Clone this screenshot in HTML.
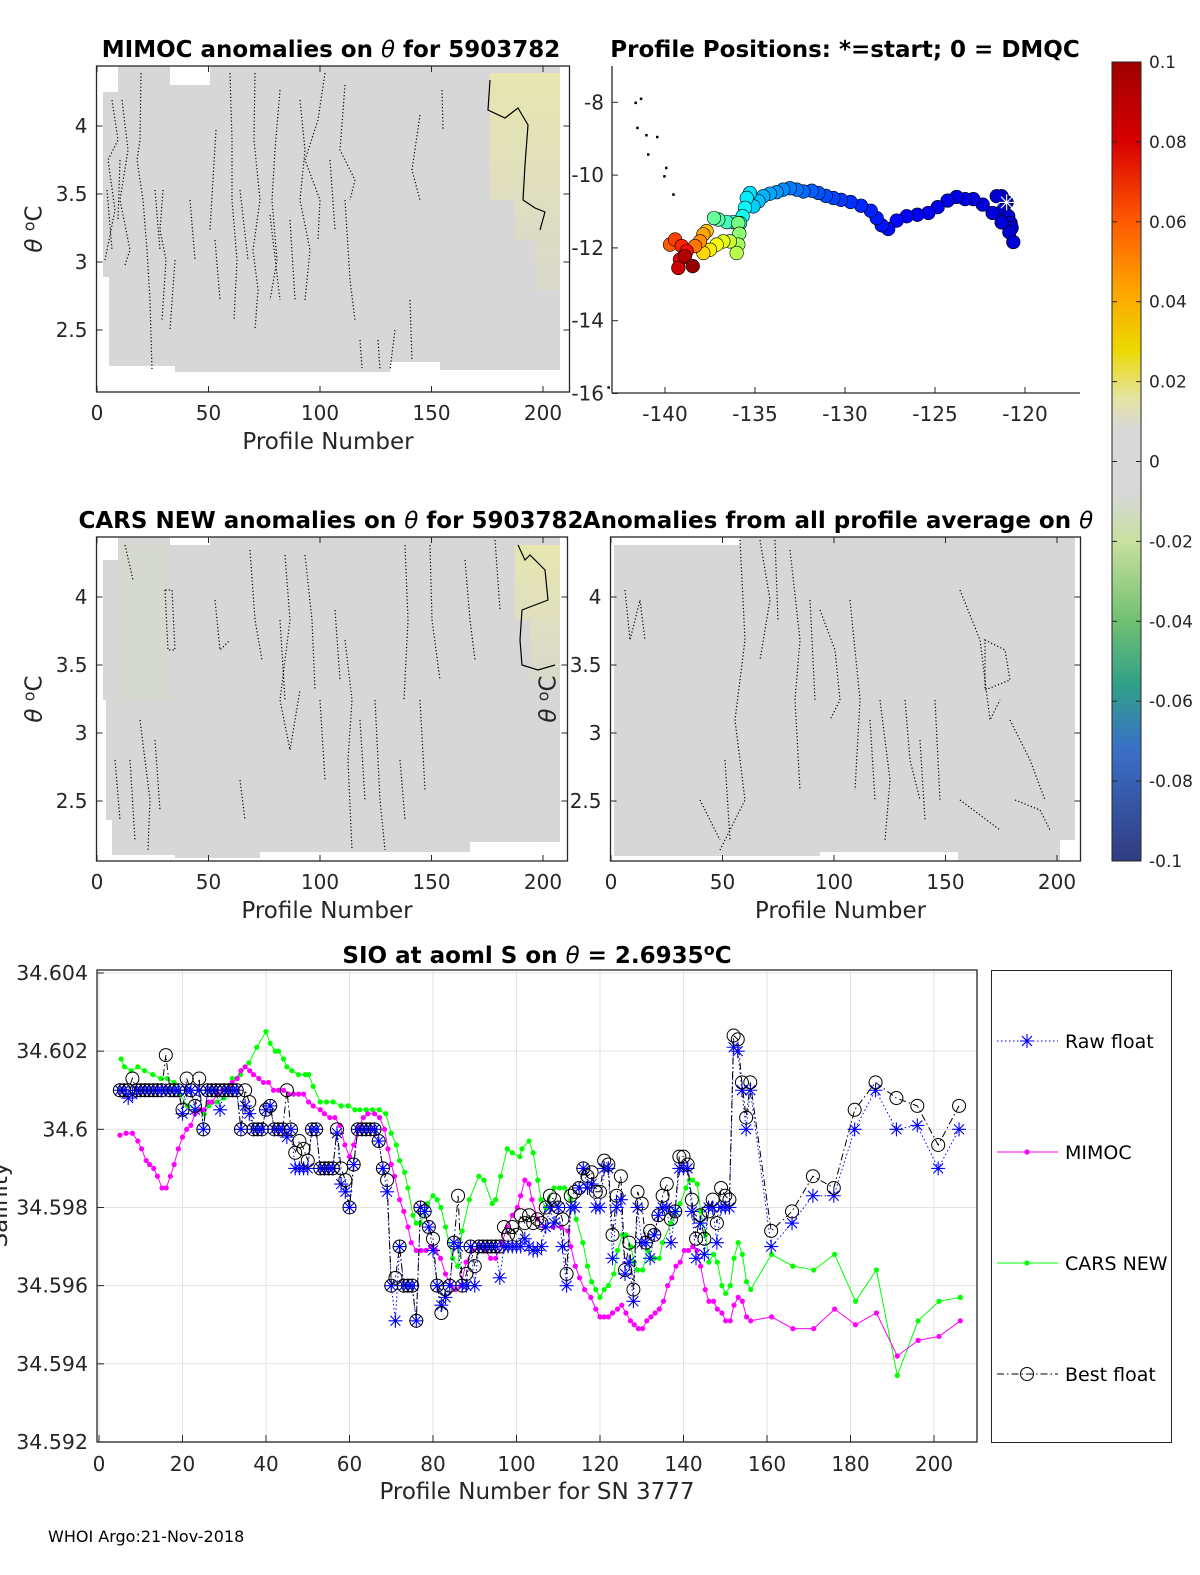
<!DOCTYPE html>
<html><head><meta charset="utf-8"><style>
body{margin:0;background:#fff;}
svg{display:block;font-family:"DejaVu Sans","Liberation Sans",sans-serif;}
</style></head><body>
<svg id="fig" width="1200" height="1575" viewBox="0 0 1200 1575" xmlns="http://www.w3.org/2000/svg">
<rect width="1200" height="1575" fill="#fff"/>
<defs>
<linearGradient id="cb" x1="0" y1="0" x2="0" y2="1">
<stop offset="0" stop-color="#a00000"/><stop offset="0.1" stop-color="#d80000"/>
<stop offset="0.2" stop-color="#ff5a00"/><stop offset="0.28" stop-color="#ffa000"/>
<stop offset="0.36" stop-color="#ecd800"/><stop offset="0.42" stop-color="#e4e4a0"/>
<stop offset="0.46" stop-color="#d8d8d8"/><stop offset="0.54" stop-color="#d8d8d8"/>
<stop offset="0.6" stop-color="#c8e0a0"/><stop offset="0.7" stop-color="#70c070"/>
<stop offset="0.78" stop-color="#30a088"/><stop offset="0.86" stop-color="#3a70c8"/>
<stop offset="1" stop-color="#303c80"/></linearGradient>
<linearGradient id="yel" x1="0" y1="0" x2="0" y2="1">
<stop offset="0" stop-color="#e6e6b0"/><stop offset="1" stop-color="#d9d9cc"/></linearGradient>
</defs>

<!-- Panel 1: MIMOC -->
<g>
<text x="331" y="57" font-size="23" font-weight="bold" text-anchor="middle">MIMOC anomalies on <tspan font-style="italic" font-weight="normal">θ</tspan>  for 5903782</text>
<path d="M103,92 L118,92 L118,66 L170,66 L170,85 L210,85 L210,66 L560,66 L560,370 L440,370 L440,362 L390,362 L390,372 L175,372 L175,366 L109,366 L109,277 L103,277 Z" fill="#d7d7d7"/>
<path d="M490,73 L560,73 L560,290 L535,290 L535,240 L515,240 L515,200 L490,200 Z" fill="url(#yel)"/>
<g fill="none" stroke="#000" stroke-width="1.2" stroke-dasharray="1.2,2.2">
<path d="M112,100 L118,140 L108,160 L115,210 L105,260 M122,100 L128,150 L120,200 L130,250 L125,265 M141,73 L140,140 L137,160 L143,200 L147,250 L150,300 L152,370 M163,190 L160,230 L166,260 L162,320 M230,73 L232,140 L232,200 L237,260 L234,320 M255,73 L254,140 L260,200 L253,250 L258,290 L255,330 M280,90 L275,150 L272,200 L277,260 L270,300 M300,100 L305,150 L300,200 L310,250 L305,300 M325,73 L318,120 L305,160 L320,200 L318,240 M345,85 L340,150 L355,180 L350,200 M420,115 L412,170 L420,200 M442,90 L443,130 M378,340 L380,370 M395,330 L390,370 M410,300 L412,360 M360,340 L362,368 M216,130 L210,230 M270,215 L280,300 M345,200 L350,280 L355,320 M107,190 L112,250 M155,190 L160,250 M190,200 L195,260 M215,240 L220,300 M240,190 L248,260 M290,220 L295,300 M330,160 L335,230 M120,160 L118,220 M175,260 L170,330"/>
</g>
<path d="M490,80 L488,110 L505,118 L518,108 L528,125 L525,165 L523,200 L535,208 L545,212 L540,230" fill="none" stroke="#000" stroke-width="1.2"/>
<rect x="96.5" y="66" width="473" height="326" fill="none" stroke="#262626" stroke-width="1.3"/>
</g>

<!-- Panel 3: CARS -->
<g>
<text x="331" y="528" font-size="23" font-weight="bold" text-anchor="middle">CARS NEW anomalies on <tspan font-style="italic" font-weight="normal">θ</tspan> for 5903782</text>
<path d="M103,560 L118,560 L118,537 L170,537 L170,545 L210,545 L210,537 L560,537 L560,842 L470,842 L470,852 L260,852 L260,858 L175,858 L175,855 L112,855 L112,820 L106,820 L106,700 L103,700 Z" fill="#d7d7d7"/>
<path d="M515,545 L560,545 L560,680 L530,680 L530,620 L515,620 Z" fill="url(#yel)"/>
<path d="M120,545 L170,545 L170,700 L120,700 Z" fill="#d3dbc8" opacity="0.5"/>
<g fill="none" stroke="#000" stroke-width="1.2" stroke-dasharray="1.2,2.2">
<path d="M125,545 L133,580 M165,590 L168,650 L175,650 L172,590 L165,590 M215,600 L220,650 L230,640 M250,550 L255,620 L262,660 M285,555 L290,620 L280,700 L290,750 L300,690 M305,555 L312,620 L315,690 M335,610 L340,680 M345,640 L352,700 L348,760 L352,850 M375,700 L380,800 L385,850 M405,545 L408,620 L404,700 M430,545 L432,620 L440,680 M465,560 L470,620 L475,660 M140,720 L150,800 L148,850 M115,760 L120,820 M400,760 L405,820 M240,780 L245,820 M495,540 L500,610 M130,760 L135,840 M155,740 L160,810 M280,620 L285,700 M320,700 L325,780 M360,720 L365,800 M420,700 L425,790"/>
</g>
<path d="M518,545 L525,560 L530,555 L545,570 L548,600 L522,610 L520,640 L522,665 L538,670 L555,665" fill="none" stroke="#000" stroke-width="1.2"/>
<rect x="96.5" y="537" width="471" height="324" fill="none" stroke="#262626" stroke-width="1.3"/>
</g>

<!-- Panel 4 -->
<g>
<text x="838" y="528" font-size="23" font-weight="bold" text-anchor="middle">Anomalies from all profile average on <tspan font-style="italic" font-weight="normal">θ</tspan></text>
<path d="M614,545 L740,545 L740,537 L1075,537 L1075,840 L1060,840 L1060,860 L958,860 L958,852 L820,852 L820,856 L614,856 Z" fill="#d7d7d7"/>
<g fill="none" stroke="#000" stroke-width="1.2" stroke-dasharray="1.2,2.2">
<path d="M625,590 L630,640 L640,600 L645,640 M740,540 L745,640 L735,720 L745,800 L720,850 M760,540 L770,600 L760,660 M790,550 L800,640 L795,700 L800,790 M820,610 L835,650 L840,700 L830,720 M850,600 L860,700 L855,790 M880,700 L890,780 L885,840 M905,700 L910,760 L920,800 M935,700 L940,800 M960,590 L980,640 L990,720 L1000,700 M985,640 L1005,650 L1010,680 L985,690 Z M1010,720 L1030,760 L1045,800 M1015,800 L1040,810 L1050,830 M700,800 L720,840 M960,800 L1000,830 M775,540 L778,620 M810,600 L815,700 M870,720 L875,800 M920,740 L925,820 M725,760 L730,840"/>
</g>
<rect x="610.5" y="537" width="470" height="324" fill="none" stroke="#262626" stroke-width="1.3"/>
</g>

<g id="heatTicks" font-size="19" fill="#262626"></g>

<g id="map">
<text x="845" y="57" font-size="23" font-weight="bold" text-anchor="middle">Profile Positions: *=start; 0 = DMQC</text>
<line x1="612" y1="66" x2="612" y2="393" stroke="#262626" stroke-width="1.3"/>
<line x1="612" y1="393" x2="1080" y2="393" stroke="#262626" stroke-width="1.3"/>
</g>

<g>
<rect x="1112" y="62" width="29" height="799" fill="url(#cb)" stroke="#262626" stroke-width="1"/>
<g id="cbTicks" font-size="17" fill="#262626"></g>
</g>

<g id="sal">
<text x="537" y="963" font-size="23" font-weight="bold" text-anchor="middle">SIO at aoml S on <tspan font-style="italic" font-weight="normal">θ</tspan> = 2.6935<tspan dy="-8" font-size="16">o</tspan><tspan dy="8">C</tspan></text>
<text x="537" y="1499" font-size="23" text-anchor="middle" fill="#262626">Profile Number for SN 3777</text>
<text transform="translate(7,1205) rotate(-90)" font-size="23" text-anchor="middle" fill="#262626">Salinity</text>
</g>
<g id="legend">
<rect x="991.5" y="970.5" width="180" height="472" fill="#fff" stroke="#262626" stroke-width="1"/>
</g>
<text x="48" y="1542" font-size="16" fill="#000">WHOI Argo:21-Nov-2018</text>
</svg>
<script>
const profAll = [5,6,7,8,9,10,11,12,13,14,15,16,17,18,19,20,21,22,23,24,25,26,27,28,29,30,31,32,33,34,35,36,37,38,39,40,41,42,43,44,45,46,47,48,49,50,51,52,53,54,55,56,57,58,59,60,61,62,63,64,65,66,67,68,69,70,71,72,73,74,75,76,77,78,79,80,81,82,83,84,85,86,87,88,89,90,91,92,93,94,95,96,97,98,99,100,101,102,103,104,105,106,107,108,109,110,111,112,113,114,115,116,117,118,119,120,121,122,123,124,125,126,127,128,129,130,131,132,133,134,135,136,137,138,139,140,141,142,143,144,145,146,147,148,149,150,151,152,153,154,155,156,161,166,171,176,181,186,191,196,201,206];
const rawVals = [34.6010,34.6010,34.6008,34.6009,34.6010,34.6010,34.6010,34.6010,34.6010,34.6010,34.6010,34.6010,34.6010,34.6010,34.6010,34.6004,34.6010,34.6010,34.6005,34.6010,34.6000,34.6010,34.6010,34.6010,34.6005,34.6010,34.6010,34.6010,34.6010,34.6000,34.6006,34.6004,34.6000,34.6000,34.6000,34.6005,34.6006,34.6000,34.6000,34.6000,34.5998,34.6000,34.5990,34.5990,34.5990,34.5990,34.6000,34.6000,34.5990,34.5990,34.5990,34.5990,34.5999,34.5986,34.5984,34.5980,34.5991,34.6000,34.6000,34.6000,34.6000,34.6000,34.5997,34.5990,34.5984,34.5960,34.5951,34.5970,34.5960,34.5960,34.5960,34.5951,34.5980,34.5979,34.5975,34.5969,34.5960,34.5955,34.5957,34.5960,34.5971,34.5970,34.5960,34.5960,34.5970,34.5960,34.5970,34.5970,34.5970,34.5970,34.5970,34.5962,34.5970,34.5970,34.5970,34.5970,34.5970,34.5972,34.5970,34.5969,34.5969,34.5970,34.5975,34.5980,34.5976,34.5980,34.5970,34.5960,34.5980,34.5980,34.5985,34.5990,34.5985,34.5986,34.5980,34.5980,34.5990,34.5990,34.5967,34.5980,34.5982,34.5963,34.5966,34.5956,34.5980,34.5971,34.5971,34.5967,34.5973,34.5978,34.5980,34.5980,34.5971,34.5979,34.5990,34.5990,34.5990,34.5979,34.5967,34.5976,34.5968,34.5980,34.5980,34.5971,34.5980,34.5980,34.5980,34.6021,34.6020,34.6010,34.6000,34.6010,34.5970,34.5976,34.5983,34.5983,34.6000,34.6010,34.6000,34.6001,34.5990,34.6000];
const bestVals = [34.6010,34.6010,34.6010,34.6013,34.6010,34.6010,34.6010,34.6010,34.6010,34.6010,34.6010,34.6019,34.6010,34.6010,34.6010,34.6005,34.6013,34.6010,34.6006,34.6013,34.6000,34.6010,34.6010,34.6010,34.6010,34.6010,34.6010,34.6010,34.6010,34.6000,34.6010,34.6007,34.6000,34.6000,34.6000,34.6005,34.6006,34.6000,34.6000,34.6000,34.6010,34.6000,34.5994,34.5997,34.5995,34.5992,34.6000,34.6000,34.5990,34.5990,34.5990,34.5990,34.6000,34.5990,34.5987,34.5980,34.5991,34.6000,34.6000,34.6000,34.6000,34.6000,34.5997,34.5990,34.5987,34.5960,34.5962,34.5970,34.5960,34.5960,34.5960,34.5951,34.5980,34.5979,34.5975,34.5972,34.5960,34.5953,34.5959,34.5960,34.5971,34.5983,34.5960,34.5963,34.5970,34.5965,34.5970,34.5970,34.5970,34.5970,34.5970,34.5970,34.5975,34.5973,34.5975,34.5973,34.5978,34.5976,34.5978,34.5976,34.5977,34.5976,34.5980,34.5983,34.5982,34.5980,34.5977,34.5963,34.5983,34.5984,34.5985,34.5990,34.5988,34.5989,34.5984,34.5984,34.5992,34.5991,34.5973,34.5983,34.5988,34.5964,34.5971,34.5959,34.5984,34.5981,34.5971,34.5974,34.5973,34.5978,34.5983,34.5986,34.5977,34.5979,34.5993,34.5993,34.5991,34.5982,34.5972,34.5978,34.5972,34.5979,34.5982,34.5976,34.5985,34.5983,34.5982,34.6024,34.6023,34.6012,34.6003,34.6012,34.5974,34.5979,34.5988,34.5985,34.6005,34.6012,34.6008,34.6006,34.5996,34.6006];
const mimocProf = [5,6.5,8,9.3,10.2,11.3,12.1,13.1,14,15.1,16.1,17.1,18,19,20,21,22,23,24.2,25.2,26.2,27.1,28.3,29.5,30.7,31.9,33.1,34,35,36.1,37,38.3,39.4,40.6,41.8,43,44.2,45.4,46.6,47.8,49,50.2,51.3,53,54,55.3,56.5,57.7,58.9,60,61,62,63.3,64.4,66,67.2,68.4,69.2,70,70.8,72,73,74,74.8,76,77.1,78.3,79.5,80.7,81.8,83,84.3,85.4,86.7,87.9,89.4,91,92.6,93.8,95,96.5,97.8,99,100.2,101,102,103,103.7,105.1,106.7,108.7,110.7,112.3,113,114.1,115.1,116.3,117.8,119,120,121,122,123,124.2,125.2,126.2,127.3,128.2,129.2,130.2,131.2,132.2,133.2,134.2,135.2,136.2,137.2,138.2,139.2,140.2,141.2,142.2,143.2,144.1,145.2,146.1,147.2,148.1,149.2,150.1,151.2,152.1,153.1,154.1,155.1,156.1,161.1,166.2,171.2,176.2,181.2,186.2,191.2,196.2,201.2,206.3];
const mimocVals = [34.59985,34.5999,34.5999,34.5997,34.5995,34.5992,34.5991,34.5990,34.5988,34.5985,34.5985,34.5988,34.5991,34.5995,34.5998,34.6000,34.6001,34.6004,34.6005,34.6005,34.6007,34.6007,34.6009,34.6010,34.6010,34.6012,34.6013,34.6015,34.6016,34.6015,34.6014,34.6013,34.6012,34.6012,34.6010,34.6010,34.6010,34.6009,34.6009,34.6009,34.6009,34.6007,34.6006,34.6005,34.6004,34.6003,34.6003,34.6001,34.5996,34.5993,34.5996,34.6000,34.6003,34.6004,34.6004,34.6003,34.6000,34.5995,34.5991,34.5988,34.5982,34.5979,34.5975,34.5971,34.5969,34.5969,34.5969,34.5970,34.5969,34.5967,34.5963,34.5960,34.5959,34.5960,34.5966,34.5969,34.5970,34.5969,34.5967,34.5967,34.5971,34.5975,34.5978,34.5980,34.5983,34.5987,34.5986,34.5982,34.5977,34.5975,34.5975,34.5975,34.5974,34.5970,34.5965,34.5962,34.5959,34.5957,34.5954,34.5952,34.5952,34.5952,34.5953,34.5954,34.5955,34.5953,34.5951,34.5950,34.5949,34.5949,34.5951,34.5952,34.5953,34.5954,34.5956,34.5960,34.5962,34.5965,34.5966,34.5969,34.5969,34.5970,34.5969,34.5965,34.5959,34.5956,34.5956,34.5954,34.5953,34.5951,34.5951,34.5955,34.5957,34.5956,34.5952,34.5951,34.5952,34.5949,34.5949,34.5954,34.5950,34.5953,34.5942,34.5946,34.5947,34.5951];
const carsProf = [5.3,6.1,7.7,9.3,10.9,12.9,14.8,16.4,18,19.2,21.2,23.6,25.2,26.3,28.3,29.9,31.9,33.9,35.9,37.8,40,41,42.2,43,44.2,45,46.2,47.8,49.4,50.2,51.3,53,54.5,56.1,58,59.7,61.3,62.5,64,65.5,67.1,68.7,70,71.2,72,73.2,74,75.2,76,77,78.7,80,81,81.9,83,84.7,85.9,87,88.7,91,92.2,94.2,95,96.2,97.8,99,100.8,101.3,103,104,105.1,105.9,107,109,110.3,111.5,113,114.3,115.9,117,118,119,120,121,122,123.3,124.2,125.4,126.2,127.4,128.2,129,130.2,131.4,132.2,133,134.2,135,137,138.2,139.2,140.6,141.4,142.2,143.3,144.1,145.3,146.1,147.2,148.1,149.2,150.1,151.2,152.1,153.1,154.1,155.1,156.1,161.1,166.2,171.2,176.2,181.2,186.2,191.2,196.2,201.2,206.3];
const carsVals = [34.6018,34.6016,34.6015,34.6016,34.6015,34.6014,34.6013,34.6013,34.6012,34.6009,34.6006,34.6005,34.6004,34.6006,34.6007,34.6008,34.6013,34.6014,34.6017,34.6021,34.6025,34.6022,34.6020,34.6020,34.6018,34.6016,34.6015,34.6014,34.6014,34.6014,34.6011,34.6007,34.6007,34.6007,34.6006,34.6006,34.6005,34.6005,34.6005,34.6005,34.6005,34.6004,34.5999,34.5996,34.5992,34.5989,34.5985,34.5978,34.5976,34.5976,34.5981,34.5983,34.5982,34.5980,34.5975,34.5967,34.5965,34.5974,34.5982,34.5988,34.5987,34.5981,34.5982,34.5988,34.5995,34.5994,34.5993,34.5995,34.5997,34.5994,34.5987,34.5982,34.5980,34.5985,34.5985,34.5985,34.5982,34.5977,34.5971,34.5965,34.5961,34.5959,34.5957,34.5959,34.5960,34.5963,34.5969,34.5973,34.5973,34.5970,34.5966,34.5964,34.5964,34.5969,34.5967,34.5967,34.5967,34.5971,34.5976,34.5979,34.5981,34.5985,34.5987,34.5987,34.5986,34.5979,34.5973,34.5966,34.5968,34.5966,34.5960,34.5958,34.5960,34.5967,34.5971,34.5968,34.5961,34.5959,34.5968,34.5965,34.5964,34.5968,34.5956,34.5964,34.5937,34.5951,34.5956,34.5957];
const salXTicks = [0,20,40,60,80,100,120,140,160,180,200];
const salYTicks = [34.592,34.594,34.596,34.598,34.6,34.602,34.604];
const salYLabels = ["34.592","34.594","34.596","34.598","34.6","34.602","34.604"];

const trackLon = [-121.02,-121.30,-121.57,-121.20,-120.93,-120.80,-120.74,-120.87,-120.65,-121.30,-121.80,-122.35,-122.87,-123.33,-123.80,-124.30,-124.85,-125.37,-125.98,-126.57,-127.13,-127.60,-127.96,-128.24,-128.57,-129.11,-129.69,-130.22,-130.65,-131.07,-131.48,-131.85,-132.31,-132.69,-133.06,-133.43,-133.80,-134.17,-134.54,-134.81,-135.09,-135.28,-135.46,-135.56,-135.69,-135.83,-136.20,-136.57,-137.04,-137.28,-135.93,-135.87,-135.93,-136.02,-136.39,-136.76,-137.13,-137.50,-137.87,-137.69,-137.87,-138.06,-138.33,-139.72,-139.44,-139.07,-138.80,-139.17,-139.26,-138.89,-138.46];
const trackLat = [-10.75,-10.58,-10.58,-10.95,-11.13,-11.32,-11.45,-11.57,-11.84,-11.30,-11.04,-10.81,-10.66,-10.66,-10.60,-10.70,-10.88,-11.04,-11.09,-11.13,-11.25,-11.48,-11.38,-11.18,-10.98,-10.84,-10.74,-10.68,-10.63,-10.57,-10.49,-10.43,-10.45,-10.40,-10.36,-10.40,-10.47,-10.51,-10.58,-10.72,-10.86,-10.49,-10.63,-10.90,-11.13,-11.32,-11.29,-11.29,-11.22,-11.18,-11.32,-11.61,-11.91,-12.14,-11.82,-11.82,-11.91,-12.05,-12.14,-11.54,-11.63,-11.82,-11.95,-11.91,-11.77,-11.95,-12.09,-12.32,-12.55,-12.23,-12.50];
const islandLon = [-141.7,-141.4,-141.6,-141.1,-140.5,-141.0,-140.0,-140.1,-139.6,-143.2];
const islandLat = [-7.98,-7.87,-8.67,-8.87,-8.92,-9.40,-9.77,-10.0,-10.5,-15.8];
const mapXTicks = [-140,-135,-130,-125,-120];
const mapYTicks = [-8,-10,-12,-14,-16];
const heatXTicks = [0,50,100,150,200];
const heatYTicks = [2.5,3,3.5,4];
const cbTicks = [0.1,0.08,0.06,0.04,0.02,0,-0.02,-0.04,-0.06,-0.08,-0.1];
const cbLabels = ["0.1","0.08","0.06","0.04","0.02","0","-0.02","-0.04","-0.06","-0.08","-0.1"];

const NS="http://www.w3.org/2000/svg";
function mk(tag, attrs, parent){const e=document.createElementNS(NS,tag);for(const k in attrs)e.setAttribute(k,attrs[k]);parent.appendChild(e);return e;}

const sal=document.getElementById('sal');
const X0=97,X1=977,Y0=970,Y1=1442;
const sx=p=>99+p*4.175;
const sy=v=>973+(34.604-v)*39080;
salXTicks.forEach(t=>{
  const g=mk('line',{x1:sx(t),x2:sx(t),y1:Y0,y2:Y1,stroke:'#e3e3e3','stroke-width':1},sal);
  
  
  const tk=mk('line',{x1:sx(t),x2:sx(t),y1:Y1,y2:Y1-7,stroke:'#262626'},sal);
  
  
  const tx=mk('text',{x:sx(t),y:1471,'font-size':20,'text-anchor':'middle',fill:'#262626'},sal);
  tx.textContent=t;
  
  
});
salYTicks.forEach((t,i)=>{
  const g=mk('line',{x1:X0,x2:X1,y1:sy(t),y2:sy(t),stroke:'#e3e3e3','stroke-width':1},sal);
  
  
  const tk=mk('line',{x1:X0,x2:X0+7,y1:sy(t),y2:sy(t),stroke:'#262626'},sal);
  
  
  const tx=mk('text',{x:88,y:sy(t)+7,'font-size':20.5,'text-anchor':'end',fill:'#262626'},sal);
  tx.textContent=salYLabels[i];
  
  
});
const box=mk('rect',{x:X0,y:Y0,width:X1-X0,height:Y1-Y0,fill:'none',stroke:'#262626','stroke-width':1.3},sal);



function poly(px,vals,color,dash,name){
  const d=px.map((p,i)=>(i?'L':'M')+sx(p).toFixed(1)+','+sy(vals[i]).toFixed(1)).join(' ');
  const e=mk('path',{d:d,fill:'none',stroke:color,'stroke-width':1,'stroke-dasharray':dash},sal);
  
  
}
function star(cx,cy,r,color,parent){
  let d='';
  for(let k=0;k<4;k++){const a=k*Math.PI/4;d+=`M${cx-r*Math.cos(a)},${cy-r*Math.sin(a)}L${cx+r*Math.cos(a)},${cy+r*Math.sin(a)}`;}
  return mk('path',{d:d,stroke:color,'stroke-width':1.1,fill:'none'},parent);
}
poly(carsProf,carsVals,'#00ff00','','cars-line');
carsProf.forEach((p,i)=>{const c=mk('circle',{cx:sx(p),cy:sy(carsVals[i]),r:2.6,fill:'#00ff00'},sal);
  
  });
poly(mimocProf,mimocVals,'#ff00ff','','mimoc-line');
mimocProf.forEach((p,i)=>{const c=mk('circle',{cx:sx(p),cy:sy(mimocVals[i]),r:2.6,fill:'#ff00ff'},sal);
  
  });
poly(profAll,rawVals,'#0000ff','1.5,2.5','raw-float-line');
poly(profAll,bestVals,'#000000','7,3,1.5,3','best-float-line');
profAll.forEach((p,i)=>{
  const s=star(sx(p),sy(rawVals[i]),7,'#0000ff',sal);
  
  
  const c=mk('circle',{cx:sx(p),cy:sy(bestVals[i]),r:6.5,fill:'none',stroke:'#000','stroke-width':1},sal);
  
  
});

const lg=document.getElementById('legend');
const legNames=['Raw float','MIMOC','CARS NEW','Best float'];
const legY=[1041,1152,1263,1374];
const legCol=['#0000ff','#ff00ff','#00ff00','#000'];
const legDash=['1.5,2.5','','','7,3,1.5,3'];
legNames.forEach((n,i)=>{
  const l=mk('line',{x1:997,x2:1058,y1:legY[i],y2:legY[i],stroke:legCol[i],'stroke-width':1,'stroke-dasharray':legDash[i]},lg);
  
  
  if(i==0){star(1027,legY[i],7,'#0000ff',lg);}
  else if(i==3){mk('circle',{cx:1027,cy:legY[i],r:6.5,fill:'none',stroke:'#000'},lg);}
  else{mk('circle',{cx:1027,cy:legY[i],r:2.6,fill:legCol[i]},lg);}
  const t=mk('text',{x:1065,y:legY[i]+7,'font-size':19,fill:'#000'},lg);
  t.textContent=n;
  
  
});

const ht=document.getElementById('heatTicks');
const panels=[{x0:96.5,x1:569.5,y0:66,y1:392,px:97},{x0:96.5,x1:567.5,y0:537,y1:861,px:97},{x0:610.5,x1:1080.5,y0:537,y1:861,px:611}];
panels.forEach((P,pi)=>{
  const yOff=P.y0-66;
  heatXTicks.forEach(t=>{
    const x=P.px+t*2.23;
    mk('line',{x1:x,x2:x,y1:P.y1,y2:P.y1-6,stroke:'#262626'},ht);
    mk('line',{x1:x,x2:x,y1:P.y0,y2:P.y0+6,stroke:'#262626'},ht);
    const tx=mk('text',{x:x,y:P.y1+28,'text-anchor':'middle','font-size':20},ht);
    tx.textContent=t;
    
    
  });
  heatYTicks.forEach(t=>{
    const y=262-(t-3)*136+yOff;
    mk('line',{x1:P.x0,x2:P.x0+6,y1:y,y2:y,stroke:'#262626'},ht);
    mk('line',{x1:P.x1,x2:P.x1-6,y1:y,y2:y,stroke:'#262626'},ht);
    const tx=mk('text',{x:P.x0-9,y:y+7,'text-anchor':'end','font-size':20},ht);
    tx.textContent=t;
    
    
  });
  const xl=mk('text',{x:(P.x0+P.x1)/2-5,y:P.y1+57,'text-anchor':'middle','font-size':23},ht);
  xl.textContent='Profile Number';
  
  
  const yl=mk('text',{transform:`translate(${P.x0-55},${(P.y0+P.y1)/2}) rotate(-90)`,'text-anchor':'middle','font-size':23},ht);
  yl.innerHTML='<tspan font-style="italic">θ</tspan> <tspan dy="-7" font-size="16">o</tspan><tspan dy="7">C</tspan>';
  
  
});

const mp=document.getElementById('map');
const mx=l=>665+(l+140)*18.0;
const my=l=>102.3-(l+8)*36.4;
mapXTicks.forEach(t=>{
  mk('line',{x1:mx(t),x2:mx(t),y1:393,y2:387,stroke:'#262626'},mp);
  const tx=mk('text',{x:mx(t),y:421,'text-anchor':'middle','font-size':20,fill:'#262626'},mp);
  tx.textContent=t;
  
  
});
mapYTicks.forEach(t=>{
  mk('line',{x1:612,x2:618,y1:my(t),y2:my(t),stroke:'#262626'},mp);
  const tx=mk('text',{x:604,y:my(t)+7,'text-anchor':'end','font-size':20,fill:'#262626'},mp);
  tx.textContent=t;
  
  
});
islandLon.forEach((l,i)=>{const r=mk('rect',{x:mx(l),y:my(islandLat[i]),width:2.5,height:2.5,fill:'#000'},mp);
  
  });
function jet(t){
  const r=Math.min(1,Math.max(0,1.5-Math.abs(4*t-3)));
  const g=Math.min(1,Math.max(0,1.5-Math.abs(4*t-2)));
  const b=Math.min(1,Math.max(0,1.5-Math.abs(4*t-1)));
  return `rgb(${Math.round(r*255)},${Math.round(g*255)},${Math.round(b*255)})`;
}
const n=trackLon.length;
trackLon.forEach((l,i)=>{
  const c=mk('circle',{cx:mx(l),cy:my(trackLat[i]),r:6.8,fill:jet(0.08+0.9*Math.pow(i/(n-1),2.3)),stroke:'#000','stroke-width':0.6},mp);
  
  
});
const st=star(mx(trackLon[0]),my(trackLat[0]),8,'#fff',mp);



const cbt=document.getElementById('cbTicks');
cbTicks.forEach((t,i)=>{
  const y=62+(0.1-t)/0.2*799;
  mk('line',{x1:1112,x2:1117,y1:y,y2:y,stroke:'#262626'},cbt);
  mk('line',{x1:1141,x2:1136,y1:y,y2:y,stroke:'#262626'},cbt);
  const tx=mk('text',{x:1149,y:y+6},cbt);
  tx.textContent=cbLabels[i];
  
  
});
</script>
</body></html>
